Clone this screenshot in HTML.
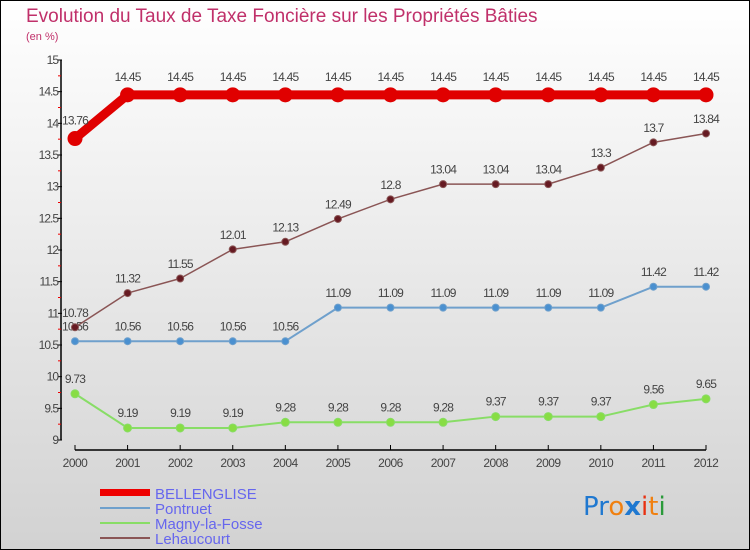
<!DOCTYPE html>
<html><head><meta charset="utf-8"><style>
body{margin:0;}
#c{width:750px;height:550px;position:relative;overflow:hidden;font-family:"Liberation Sans",sans-serif;}
</style></head><body>
<div id="c">
<svg id="s" width="750" height="550" xmlns="http://www.w3.org/2000/svg">
<defs><linearGradient id="bg" x1="0" y1="0" x2="0" y2="1"><stop offset="0" stop-color="#ffffff"/><stop offset="1" stop-color="#d2d2d2"/></linearGradient></defs>
<rect x="0.5" y="0.5" width="749" height="549" fill="url(#bg)" stroke="#000"/>
<text x="26" y="22" font-size="19" fill="#c0306a">Evolution du Taux de Taxe Foncière sur les Propriétés Bâties</text>
<text x="26" y="40" font-size="11" fill="#c0306a">(en %)</text>
<g id="axes"></g>
<g id="series"></g>
<g>
<rect x="100" y="489" width="50" height="7" fill="#e00"/>
<text x="155" y="499" font-size="15" fill="#6666ee">BELLENGLISE</text>
<line x1="100" y1="508" x2="150" y2="508" stroke="#6fa0cc" stroke-width="2"/>
<text x="155" y="514" font-size="15" fill="#6666ee">Pontruet</text>
<line x1="100" y1="523" x2="150" y2="523" stroke="#88dd66" stroke-width="2"/>
<text x="155" y="529" font-size="15" fill="#6666ee">Magny-la-Fosse</text>
<line x1="100" y1="538" x2="150" y2="538" stroke="#8a5555" stroke-width="2"/>
<text x="155" y="544" font-size="15" fill="#6666ee">Lehaucourt</text>
</g>
<text x="583" y="515" font-size="26" font-family="'DejaVu Sans',sans-serif"><tspan fill="#1f78d0">Pr</tspan><tspan fill="#f08010">o</tspan><tspan fill="#1f78d0" font-weight="bold">x</tspan><tspan fill="#e83010">i</tspan><tspan fill="#f08010">t</tspan><tspan fill="#2a9a3a">i</tspan></text>
</svg>
</div>
<script>
const years=[2000,2001,2002,2003,2004,2005,2006,2007,2008,2009,2010,2011,2012];
const bellenglise=[13.76,14.45,14.45,14.45,14.45,14.45,14.45,14.45,14.45,14.45,14.45,14.45,14.45];
const pontruet=[10.56,10.56,10.56,10.56,10.56,11.09,11.09,11.09,11.09,11.09,11.09,11.42,11.42];
const magny=[9.73,9.19,9.19,9.19,9.28,9.28,9.28,9.28,9.37,9.37,9.37,9.56,9.65];
const lehaucourt=[10.78,11.32,11.55,12.01,12.13,12.49,12.8,13.04,13.04,13.04,13.3,13.7,13.84];
const yTicks=[9,9.5,10,10.5,11,11.5,12,12.5,13,13.5,14,14.5,15];
const NS="http://www.w3.org/2000/svg";
function X(i){return 75+i*(706-75)/(years.length-1);}
function Y(v){return 440-(v-9)*(380/6);}
function mk(tag,attrs,parent,txt){const e=document.createElementNS(NS,tag);for(const k in attrs)e.setAttribute(k,attrs[k]);if(txt!==undefined)e.textContent=txt;parent.appendChild(e);return e;}
const ax=document.getElementById('axes');
let e=mk('line',{x1:61,y1:60,x2:61,y2:440,stroke:'#000','stroke-width':1.5},ax);


e=mk('line',{x1:75,y1:450,x2:706,y2:450,stroke:'#000','stroke-width':1.5},ax);


yTicks.forEach((t,i)=>{
  const y=Y(t);
  mk('line',{x1:58,y1:y,x2:62,y2:y,stroke:'#000'},ax);
  if(i<yTicks.length-1) mk('line',{x1:58,y1:Y(t+0.25),x2:61,y2:Y(t+0.25),stroke:'#e00'},ax);
  const tx=mk('text',{x:58,y:y+4,'font-size':12,fill:'#444','text-anchor':'end','letter-spacing':'-1'},ax,String(t));
  
  
});
years.forEach((yr,i)=>{
  mk('line',{x1:X(i),y1:445,x2:X(i),y2:450,stroke:'#000'},ax);
  const tx=mk('text',{x:X(i),y:467,'font-size':12,fill:'#444','text-anchor':'middle','letter-spacing':'-0.5'},ax,String(yr));
  
  
});
const sg=document.getElementById('series');
function series(name,vals,color,w,r,dot){
  const g=mk('g',{},sg);
  
  
  const pl=mk('polyline',{points:vals.map((v,i)=>X(i)+','+Y(v)).join(' '),fill:'none',stroke:color,'stroke-width':w,'stroke-linejoin':'round'},g);
  
  
  vals.forEach((v,i)=>{
    const c=mk('circle',{cx:X(i),cy:Y(v),r:r,fill:dot,stroke:color,'stroke-width':1},g);
    
    
    const t=mk('text',{x:X(i),y:Y(v)-(r+7),'font-size':12,fill:'#444','text-anchor':'middle','letter-spacing':'-0.8'},g,String(v));
    
    
  });
}
series('magny',magny,'#88dd66',2,4,'#88dd44');
series('pontruet',pontruet,'#6fa0cc',2,3.5,'#4a90d0');
series('lehaucourt',lehaucourt,'#8a5555',1.5,3.5,'#661a22');
series('bellenglise',bellenglise,'#e00000',9,7,'#e00000');
</script>
</body></html>
